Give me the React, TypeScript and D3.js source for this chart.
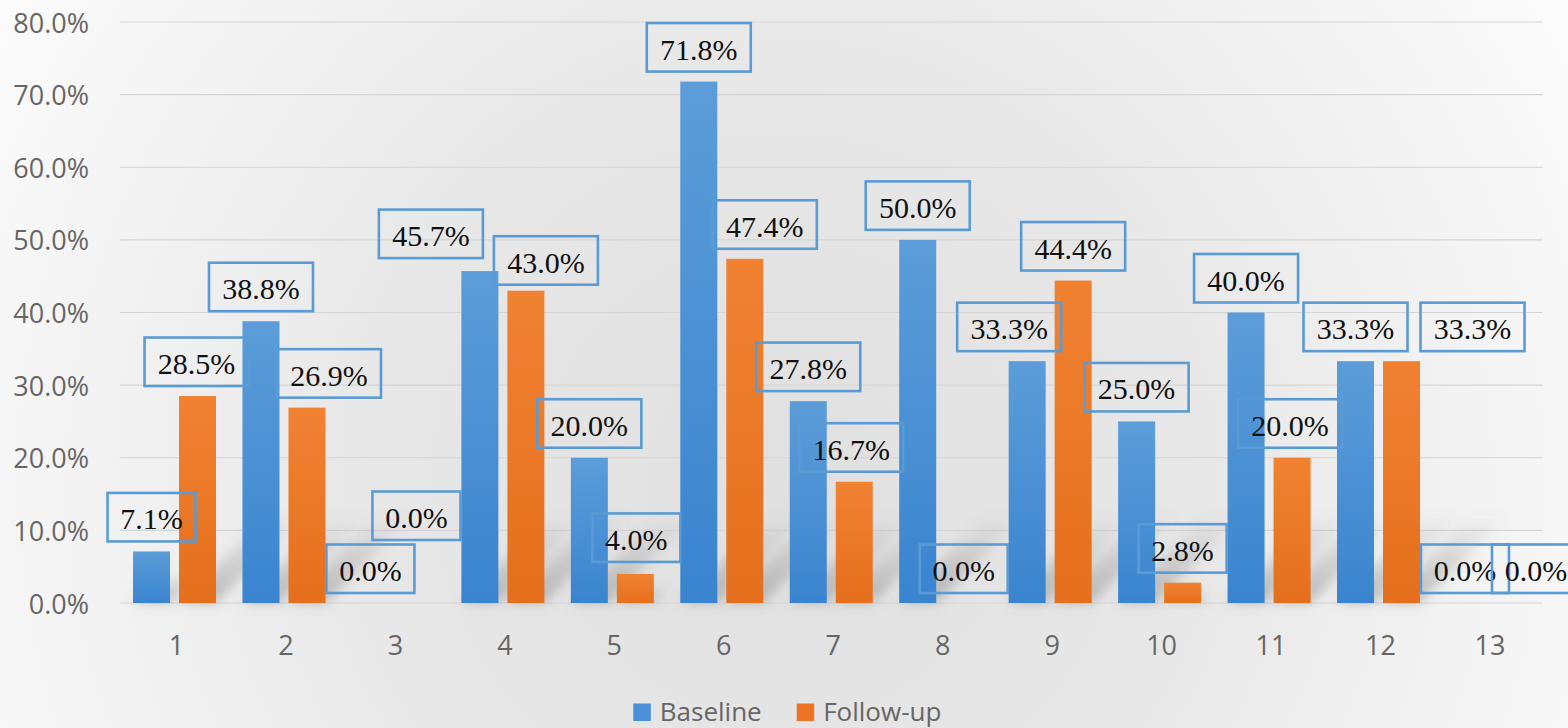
import React from "react";
import * as d3 from "d3";

const categories = ["1", "2", "3", "4", "5", "6", "7", "8", "9", "10", "11", "12", "13"];
const baseline = [7.1, 38.8, 0.0, 45.7, 20.0, 71.8, 27.8, 50.0, 33.3, 25.0, 40.0, 33.3, 0.0];
const followUp = [28.5, 26.9, 0.0, 43.0, 4.0, 47.4, 16.7, 0.0, 44.4, 2.8, 20.0, 33.3, 0.0];
const yTicks = [0, 10, 20, 30, 40, 50, 60, 70, 80];
const seriesNames = ["Baseline", "Follow-up"];

// manual label displacement (dx, dy) as in the original
const baselineLabelShift: [number, number][] = [
  [0, 0], [0, 0], [0, 0], [-49, -3], [0, 0], [0, 0], [0, 0], [0, 0], [-18, 0], [0, 0], [0, 0], [0, 0], [0, 0],
];
const followLabelShift: [number, number][] = [
  [-1, 0], [22, 0], [0, -53], [20, 4], [1, -2], [20, 0], [-3, 0], [0, 0], [0, 0], [0, 0], [-2, 0], [71, 0], [25, 0],
];

const W = 1568;
const H = 728;
const left = 119.8;
const right = 1542.7;
const top = 22;
const bottom = 603;

export default function App() {
  const x = d3.scaleBand<string>().domain(categories).range([left, right]).paddingInner(0).paddingOuter(0);
  const groupW = 83;
  const xs = d3.scaleBand<string>().domain(seriesNames).range([0, groupW]).paddingInner(9 / 46);
  const y = d3.scaleLinear().domain([0, 80]).range([bottom, top]);
  const colors = ["url(#gBlue)", "url(#gOrange)"];
  const legendColors = ["#4a90d6", "#ec7424"];
  const series = [baseline, followUp];
  const shifts = [baselineLabelShift, followLabelShift];

  const barX = (ci: number, si: number) =>
    (x(categories[ci]) as number) + (x.bandwidth() - groupW) / 2 + (xs(seriesNames[si]) as number);
  const bw = xs.bandwidth();

  const labelW = (t: string) => (t.length >= 5 ? 104 : 88);
  const labelH = 48.5;

  return (
    <svg width={W} height={H} style={{ position: "absolute", left: 0, top: 0 }} xmlns="http://www.w3.org/2000/svg">
      <defs>
        <radialGradient id="bg" gradientUnits="userSpaceOnUse" cx={780} cy={480} r={950}>
          <stop offset="0" stopColor="#e0e0e0" />
          <stop offset="0.45" stopColor="#e8e8e8" />
          <stop offset="1" stopColor="#fdfdfd" />
        </radialGradient>
        <linearGradient id="gBlue" x1="0" y1="0" x2="0" y2="1">
          <stop offset="0" stopColor="#5c9dd9" />
          <stop offset="1" stopColor="#3a84cf" />
        </linearGradient>
        <linearGradient id="gOrange" x1="0" y1="0" x2="0" y2="1">
          <stop offset="0" stopColor="#f08232" />
          <stop offset="1" stopColor="#e56f1c" />
        </linearGradient>
        <linearGradient id="shadowFade" x1="0" y1="1" x2="0" y2="0">
          <stop offset="0" stopColor="#707070" stopOpacity="0.42" />
          <stop offset="1" stopColor="#707070" stopOpacity="0" />
        </linearGradient>
        <filter id="blur" x="-50%" y="-50%" width="200%" height="200%">
          <feGaussianBlur stdDeviation="6" />
        </filter>
      </defs>
      <rect x={0} y={0} width={W} height={H} fill="url(#bg)" />

      {/* gridlines */}
      {yTicks.map((t) => (
        <line key={t} x1={left} x2={right} y1={y(t)} y2={y(t)} stroke="#d5d5d5" strokeWidth={1.2} />
      ))}

      {/* y tick labels */}
      {yTicks.map((t) => (
        <text
          key={"yl" + t}
          x={89}
          y={y(t)}
          textAnchor="end"
          dominantBaseline="central"
          fontFamily="'Open Sans', sans-serif"
          fontSize={27}
          fill="#666"
        >
          {t.toFixed(1) + "%"}
        </text>
      ))}

      {/* shadows */}
      {series.map((vals, si) =>
        vals.map((v, ci) => {
          if (v <= 0) return null;
          const x0 = barX(ci, si);
          const h = bottom - y(v);
          const L = Math.min(h * 0.6, 90);
          const pts = [
            [x0, bottom],
            [x0 + bw, bottom],
            [x0 + bw + L, bottom - L],
            [x0 + L, bottom - L],
          ];
          return (
            <polygon
              key={"s" + si + "-" + ci}
              points={pts.map((p) => p.join(",")).join(" ")}
              fill="url(#shadowFade)"
              filter="url(#blur)"
            />
          );
        })
      )}

      {/* bars */}
      {series.map((vals, si) =>
        vals.map((v, ci) => (
          <rect
            key={"b" + si + "-" + ci}
            x={barX(ci, si)}
            y={y(v)}
            width={bw}
            height={bottom - y(v)}
            fill={colors[si]}
          />
        ))
      )}

      {/* x labels */}
      {categories.map((c) => (
        <text
          key={"xl" + c}
          x={(x(c) as number) + x.bandwidth() / 2 + 2}
          y={655}
          textAnchor="middle"
          fontFamily="'Open Sans', sans-serif"
          fontSize={27}
          fill="#666"
        >
          {c}
        </text>
      ))}

      {/* data labels */}
      {series.map((vals, si) =>
        vals.map((v, ci) => {
          const t = v.toFixed(1) + "%";
          const [dx, dy] = shifts[si][ci];
          const cx = barX(ci, si) + bw / 2 + dx;
          const bb = y(v) - 10 + dy;
          const w = labelW(t);
          return (
            <g key={"l" + si + "-" + ci}>
              <rect
                x={cx - w / 2}
                y={bb - labelH}
                width={w}
                height={labelH}
                fill="none"
                stroke="#5b9bd5"
                strokeWidth={2.6}
              />
              <text
                x={cx}
                y={bb - labelH + 36.5}
                textAnchor="middle"
                fontFamily="'Liberation Serif', 'Times New Roman', serif"
                fontSize={30}
                fill="#111"
              >
                {t}
              </text>
            </g>
          );
        })
      )}

      {/* legend */}
      {seriesNames.map((n, i) => {
        const lx = i === 0 ? 633.3 : 796.7;
        return (
          <g key={"lg" + n}>
            <rect x={lx} y={703.5} width={17.5} height={17.5} fill={legendColors[i]} />
            <text
              x={lx + 26.5}
              y={720.5}
              fontFamily="'Open Sans', sans-serif"
              fontSize={26}
              fill="#666"
            >
              {n}
            </text>
          </g>
        );
      })}
    </svg>
  );
}
